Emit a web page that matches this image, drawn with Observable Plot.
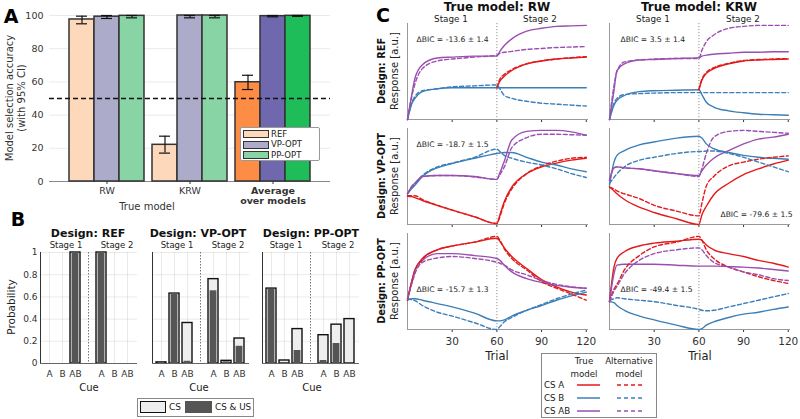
<!DOCTYPE html>
<html><head><meta charset="utf-8">
<script src="https://cdn.jsdelivr.net/npm/d3@7"></script>
<script src="https://cdn.jsdelivr.net/npm/@observablehq/plot@0.6"></script>
<style>
body{margin:0;background:#fff;font-family:"DejaVu Sans",sans-serif;}
#fig{position:relative;width:800px;height:419px;overflow:hidden;background:#fff;}
#fig svg{position:absolute;background:transparent;overflow:visible;}
</style></head><body><div id="fig"></div>
<script>
// ---------- Panel A data ----------
const aGroups = ["RW", "KRW", "Average"];
const aDesigns = ["REF", "VP-OPT", "PP-OPT"];
const accREF = [97.6, 22.1, 59.8];
const accVP  = [99.3, 100, 99.6];
const accPP  = [99.8, 100, 99.8];
const loREF = [95.0, 17.1, 55.4], hiREF = [99.6, 27.3, 64.0];
const loVP  = [98.2, 98.6, 99.2], hiVP  = [100, 100, 100];
const loPP  = [98.6, 98.6, 99.5], hiPP  = [100, 100, 100];
const aColorKeys = ["light-REF","light-VP-OPT","light-PP-OPT","dark-REF","dark-VP-OPT","dark-PP-OPT"];
const aColors = ["#fdd8bb","#adabca","#88d4a4","#fd8d45","#6f68ae","#1fbd5a"];

// ---------- Panel B data ----------
const bCues = ["A","B","AB"];
const bKeys = ["A|1","B|1","AB|1","A|2","B|2","AB|2"];
const bDomain = ["A|1","B|1","AB|1","gap","A|2","B|2","AB|2"];
const bREF_cs   = [0, 0, 1, 1, 0, 0];
const bREF_csus = [0, 0, 1, 1, 0, 0];
const bVP_cs    = [0.01, 0.63, 0.365, 0.76, 0.024, 0.225];
const bVP_csus  = [0.01, 0.63, 0.02, 0.655, 0.015, 0.155];
const bPP_cs    = [0.675, 0.027, 0.31, 0.255, 0.35, 0.40];
const bPP_csus  = [0.667, 0.005, 0.117, 0.027, 0.18, 0.0];

// ---------- Panel C data ----------
const trials = [0,3,5,10,20,30,45,60,62,65,70,80,90,100,110,120];
const N = null;
const cueNames = ["CS A","CS B","CS AB"];
const cueColors = ["#e31a1c","#3c7fb8","#9a4fb0"];
// RW / REF
const rwRef_A_true  = [N,N,N,N,N,N,N,0.33,0.40,0.45,0.51,0.58,0.61,0.63,0.64,0.65];
const rwRef_A_alt   = [N,N,N,N,N,N,N,0.33,0.42,0.47,0.52,0.58,0.61,0.63,0.645,0.655];
const rwRef_B_true  = [0,0.17,0.22,0.29,0.32,0.33,0.33,0.33,0.33,0.33,0.33,0.33,0.33,0.33,0.33,0.33];
const rwRef_B_alt   = [0,0.18,0.24,0.30,0.32,0.34,0.35,0.36,0.32,0.25,0.22,0.19,0.17,0.16,0.15,0.14];
const rwRef_AB_true = [0,0.27,0.43,0.57,0.64,0.65,0.66,0.66,0.71,0.77,0.84,0.92,0.95,0.97,0.975,0.98];
const rwRef_AB_alt  = [0,0.25,0.37,0.53,0.61,0.63,0.65,0.67,0.69,0.70,0.71,0.73,0.74,0.75,0.755,0.76];
// KRW / REF
const krwRef_A_true  = [N,N,N,N,N,N,N,0.31,0.41,0.48,0.53,0.58,0.61,0.62,0.625,0.63];
const krwRef_A_alt   = [N,N,N,N,N,N,N,0.31,0.42,0.49,0.54,0.585,0.615,0.625,0.63,0.635];
const krwRef_B_true  = [0,0.15,0.20,0.25,0.29,0.30,0.305,0.31,0.26,0.18,0.13,0.09,0.07,0.055,0.05,0.045];
const krwRef_B_alt   = [0,0.17,0.22,0.26,0.27,0.275,0.28,0.28,0.28,0.28,0.28,0.28,0.28,0.28,0.28,0.28];
const krwRef_AB_true = [0,0.30,0.51,0.58,0.62,0.625,0.635,0.645,0.66,0.67,0.68,0.69,0.70,0.70,0.705,0.705];
const krwRef_AB_alt  = [0,0.35,0.50,0.60,0.62,0.63,0.635,0.635,0.72,0.81,0.88,0.95,0.97,0.98,0.98,0.98];
// RW / VP-OPT
const rwVp_A_true  = [0.295,0.29,0.28,0.25,0.20,0.15,0.08,0.01,0.10,0.24,0.39,0.53,0.60,0.64,0.67,0.69];
const rwVp_A_alt   = [0.30,0.30,0.30,0.26,0.20,0.15,0.08,0.01,0.08,0.22,0.37,0.53,0.61,0.66,0.69,0.70];
const rwVp_B_true  = [0.32,0.38,0.41,0.50,0.59,0.635,0.69,0.74,0.745,0.75,0.75,0.70,0.65,0.62,0.58,0.55];
const rwVp_B_alt   = [0.32,0.38,0.42,0.51,0.60,0.64,0.70,0.785,0.76,0.72,0.69,0.65,0.62,0.58,0.53,0.49];
const rwVp_AB_true = [0.32,0.40,0.43,0.50,0.51,0.51,0.50,0.47,0.54,0.66,0.88,0.97,0.98,0.98,0.965,0.93];
const rwVp_AB_alt  = [0.32,0.40,0.43,0.50,0.51,0.51,0.495,0.47,0.52,0.60,0.80,0.905,0.94,0.94,0.935,0.93];
// KRW / VP-OPT
const krwVp_A_true  = [0.39,0.35,0.32,0.26,0.18,0.125,0.06,0.0,0.10,0.19,0.31,0.43,0.52,0.58,0.63,0.67];
const krwVp_A_alt   = [0.39,0.37,0.35,0.32,0.27,0.20,0.14,0.09,0.22,0.40,0.50,0.61,0.65,0.68,0.70,0.715];
const krwVp_B_true  = [0.41,0.65,0.72,0.77,0.83,0.86,0.90,0.92,0.90,0.84,0.79,0.75,0.72,0.70,0.69,0.68];
const krwVp_B_alt   = [0.43,0.49,0.53,0.60,0.67,0.70,0.74,0.76,0.76,0.765,0.765,0.74,0.70,0.65,0.60,0.55];
const krwVp_AB_true = [0.46,0.59,0.60,0.59,0.58,0.56,0.53,0.51,0.56,0.62,0.69,0.77,0.84,0.89,0.91,0.94];
const krwVp_AB_alt  = [0.46,0.59,0.60,0.59,0.58,0.56,0.53,0.50,0.58,0.74,0.91,0.97,0.98,0.97,0.96,0.95];
// RW / PP-OPT
const rwPp_A_true  = [0.305,0.51,0.62,0.74,0.83,0.87,0.91,0.95,0.92,0.85,0.76,0.635,0.52,0.445,0.39,0.36];
const rwPp_A_alt   = [0.305,0.50,0.61,0.73,0.83,0.87,0.91,0.97,0.93,0.84,0.74,0.62,0.50,0.43,0.37,0.305];
const rwPp_B_true  = [0.305,0.32,0.32,0.305,0.27,0.235,0.17,0.09,0.09,0.10,0.14,0.20,0.25,0.305,0.35,0.39];
const rwPp_B_alt   = [0.32,0.31,0.30,0.25,0.18,0.14,0.07,0.0,0.03,0.08,0.125,0.20,0.26,0.32,0.37,0.41];
const rwPp_AB_true = [0.32,0.51,0.625,0.72,0.79,0.79,0.77,0.74,0.72,0.67,0.60,0.53,0.49,0.46,0.44,0.43];
const rwPp_AB_alt  = [0.32,0.48,0.58,0.70,0.745,0.76,0.74,0.70,0.69,0.67,0.62,0.57,0.51,0.47,0.445,0.43];
// KRW / PP-OPT
const krwPp_A_true  = [0.29,0.65,0.74,0.81,0.87,0.90,0.92,0.94,0.93,0.88,0.83,0.79,0.76,0.72,0.69,0.65];
const krwPp_A_alt   = [0.29,0.42,0.47,0.62,0.77,0.86,0.91,0.97,0.93,0.83,0.74,0.65,0.60,0.55,0.51,0.48];
const krwPp_B_true  = [0.29,0.28,0.25,0.20,0.14,0.10,0.045,0.0,0.01,0.045,0.08,0.125,0.16,0.18,0.21,0.235];
const krwPp_B_alt   = [0.305,0.32,0.33,0.32,0.305,0.29,0.25,0.21,0.20,0.195,0.20,0.235,0.27,0.305,0.34,0.375];
const krwPp_AB_true = [0.29,0.58,0.67,0.68,0.68,0.68,0.67,0.66,0.66,0.66,0.66,0.655,0.65,0.64,0.625,0.61];
const krwPp_AB_alt  = [0.29,0.40,0.45,0.58,0.72,0.79,0.83,0.85,0.83,0.77,0.70,0.65,0.60,0.57,0.53,0.51];
const bicTexts = ["ΔBIC = -13.6 ± 1.4","ΔBIC = 3.5 ± 1.4","ΔBIC = -18.7 ± 1.5","ΔBIC = -79.6 ± 1.5","ΔBIC = -15.7 ± 1.3","ΔBIC = -49.4 ± 1.5"];

// ---------- helpers ----------
const fig = document.getElementById("fig");
const FONT = "DejaVu Sans";
function place(node, left, top){ node.style.left = left + "px"; node.style.top = top + "px"; fig.appendChild(node); return node; }
function label(s, x, y, o = {}){
  const d = document.createElement("div");
  d.textContent = s;
  const tx = o.anchor === "start" ? "0" : "-50%";
  d.style.cssText = `position:absolute;left:${x}px;top:${y}px;white-space:nowrap;font-family:'${FONT}';font-size:${o.size||10}px;font-weight:${o.bold?"bold":"normal"};color:${o.color||"#222"};line-height:1;transform:translate(${tx},-50%) rotate(${o.rot||0}deg);`;
  fig.appendChild(d);
  return d;
}
const baseStyle = (fs) => ({fontFamily: FONT, fontSize: fs + "px", color: "#333", background: "transparent", overflow: "visible"});

// ---------- Panel A ----------
const accs = [accREF, accVP, accPP], los = [loREF, loVP, loPP], his = [hiREF, hiVP, hiPP];
const aRows = aGroups.flatMap((g, i) => aDesigns.map((d, j) => ({
  group: g, design: d, acc: accs[j][i], lo: los[j][i], hi: his[j][i],
  key: (g === "Average" ? "dark-" : "light-") + d
})));
const aDims = {width: 340, height: 215, marginLeft: 49, marginRight: 10, marginTop: 15, marginBottom: 34};

const aBack = Plot.plot({
  ...aDims, style: baseStyle(9.5),
  x: {domain: [0, 1], axis: null},
  y: {domain: [0, 100], ticks: [0, 20, 40, 60, 80, 100], grid: true, tickSize: 0, tickPadding: 6, label: null},
  marks: [Plot.ruleY([0], {stroke: "#888"})]
});
place(aBack, 0, 0);

const aFront = Plot.plot({
  ...aDims, style: baseStyle(9.5),
  facet: {data: aRows, x: "group"},
  fx: {domain: aGroups, paddingInner: 0.096, paddingOuter: 0.24, axis: "bottom", label: null, tickSize: 3, tickPadding: 3,
       tickFormat: g => g === "Average" ? "Average\nover models" : g},
  x: {domain: aDesigns, padding: 0, axis: null},
  y: {domain: [0, 100], axis: null},
  color: {domain: aColorKeys, range: aColors},
  marks: [
    Plot.barY(aRows, {x: "design", y: "acc", fill: "key", stroke: "#333", strokeWidth: 1.5}),
    Plot.ruleX(aRows, {x: "design", y1: "lo", y2: "hi", stroke: "#111", strokeWidth: 1.2}),
    Plot.tickY(aRows, {x: "design", y: "lo", stroke: "#111", strokeWidth: 1.2, insetLeft: 7, insetRight: 7}),
    Plot.tickY(aRows, {x: "design", y: "hi", stroke: "#111", strokeWidth: 1.2, insetLeft: 7, insetRight: 7})
  ]
});
aFront.querySelectorAll("text").forEach(t => { if (t.textContent.includes("Average") || t.textContent.includes("over models")) t.setAttribute("font-weight", "bold"); });
place(aFront, 0, 0);

const aTop = Plot.plot({
  ...aDims, style: baseStyle(9.5),
  x: {domain: [0, 1], axis: null},
  y: {domain: [0, 100], axis: null},
  marks: [Plot.ruleY([50], {stroke: "#111", strokeWidth: 1.3, strokeDasharray: "5,3"})]
});
place(aTop, 0, 0);

label("A", 11, 16, {size: 19, bold: true, color: "#000"});
label("Model selection accuracy", 10, 98, {size: 10, rot: -90, color: "#333"});
label("(with 95% CI)", 22, 98, {size: 10, rot: -90, color: "#333"});
label("True model", 147, 207, {size: 10, color: "#333"});

// Legend A
{
  const box = document.createElement("div");
  box.style.cssText = "position:absolute;width:78px;height:32px;border:1px solid #999;border-radius:2px;background:#fff;";
  place(box, 240, 127);
  aDesigns.forEach((d, i) => {
    const sw = document.createElement("div");
    sw.style.cssText = `position:absolute;left:2px;top:${2 + i * 10.5}px;width:24px;height:6px;background:${aColors[i]};border:1.3px solid #333;`;
    box.appendChild(sw);
    const tx = document.createElement("div");
    tx.textContent = d;
    tx.style.cssText = `position:absolute;left:30px;top:${0.5 + i * 10.5}px;font-family:'${FONT}';font-size:8.5px;color:#222;line-height:10px;white-space:nowrap;`;
    box.appendChild(tx);
  });
}

// ---------- Panel B ----------
function bPlot(cs, csus, showY){
  const rows = bKeys.map((k, i) => ({key: k, cs: cs[i], csus: csus[i]}));
  return Plot.plot({
    width: 142, height: 136, marginLeft: 40, marginRight: 5, marginTop: 5, marginBottom: 20,
    style: baseStyle(9),
    x: {domain: bDomain, padding: 0.23, ticks: bKeys, tickFormat: d => d.split("|")[0], tickSize: 0, tickPadding: 7, grid: true, label: null},
    y: {domain: [0, 1], ticks: [0, 0.2, 0.4, 0.6, 0.8, 1], grid: true, tickSize: 0, tickPadding: 3, label: null, line: true,
        tickFormat: showY ? (d => (d === 0 || d === 1) ? String(d) : d.toFixed(1)) : (() => "")},
    marks: [
      Plot.ruleX(["gap"], {stroke: "#555", strokeWidth: 0.8, strokeDasharray: "1.5,1.5"}),
      Plot.barY(rows, {x: "key", y: "cs", fill: "#eeeeee", stroke: "#111", strokeWidth: 1.4}),
      Plot.barY(rows, {x: "key", y: "csus", fill: "#555555", insetLeft: 1.6, insetRight: 1.6}),
      Plot.ruleY([0], {stroke: "#666"})
    ]
  });
}
place(bPlot(bREF_cs, bREF_csus, true), 0, 247);
place(bPlot(bVP_cs, bVP_csus, false), 112, 247);
place(bPlot(bPP_cs, bPP_csus, false), 222, 247);

label("B", 18, 219, {size: 19, bold: true, color: "#000"});
[["Design: REF", 88, 66, 117], ["Design: VP-OPT", 198, 177, 228], ["Design: PP-OPT", 311, 286, 338]].forEach(([t, cx, s1, s2]) => {
  label(t, cx, 233, {size: 11, bold: true, color: "#111"});
  label("Stage 1", s1, 244.5, {size: 8.5, color: "#222"});
  label("Stage 2", s2, 244.5, {size: 8.5, color: "#222"});
  label("Cue", cx + 1, 388, {size: 10, color: "#222"});
});
label("Probability", 11, 307, {size: 10.5, rot: -90, color: "#222"});

// Legend B
{
  const box = document.createElement("div");
  box.style.cssText = "position:absolute;width:115px;height:17px;border:1px solid #888;background:#fff;";
  place(box, 137, 398);
  const s1 = document.createElement("div");
  s1.style.cssText = "position:absolute;left:2px;top:2px;width:24px;height:10px;background:#eee;border:1.3px solid #111;";
  box.appendChild(s1);
  const t1 = document.createElement("div"); t1.textContent = "CS";
  t1.style.cssText = `position:absolute;left:31px;top:2px;font-family:'${FONT}';font-size:9px;line-height:13px;color:#222;white-space:nowrap;`;
  box.appendChild(t1);
  const s2 = document.createElement("div");
  s2.style.cssText = "position:absolute;left:47px;top:2px;width:27px;height:12px;background:#555;";
  box.appendChild(s2);
  const t2 = document.createElement("div"); t2.textContent = "CS & US";
  t2.style.cssText = `position:absolute;left:77px;top:2px;font-family:'${FONT}';font-size:8.8px;line-height:13px;color:#222;white-space:nowrap;`;
  box.appendChild(t2);
}

// ---------- Panel C ----------
function cPlot(sets, row, bic, anchor, dx, dy){
  const rowsFor = (idx) => sets.flatMap((pair, c) => trials.map((t, i) => ({t, v: pair[idx][i], cue: cueNames[c]})));
  const last = row === 2;
  const mb = last ? 30 : 8;
  return Plot.plot({
    width: 181 + 5 + 14, height: 96 + 5 + mb, marginLeft: 5, marginRight: 14, marginTop: 5, marginBottom: mb,
    style: baseStyle(10.5),
    x: {domain: [0, 121.5], ticks: [30, 60, 90, 120], tickSize: 3, tickPadding: 5, label: null, tickFormat: last ? (d => String(d)) : (() => "")},
    y: {domain: [0, 1], axis: null},
    color: {domain: cueNames, range: cueColors},
    marks: [
      Plot.ruleX([60], {stroke: "#888", strokeWidth: 0.9, strokeDasharray: "1.2,1.8"}),
      Plot.ruleY([0], {stroke: "#999"}),
      Plot.ruleX([0], {stroke: "#999"}),
      Plot.line(rowsFor(0), {x: "t", y: "v", z: "cue", stroke: "cue", strokeWidth: 1.4, curve: "monotone-x"}),
      Plot.line(rowsFor(1), {x: "t", y: "v", z: "cue", stroke: "cue", strokeWidth: 1.4, strokeDasharray: "4,2.5", curve: "monotone-x"}),
      Plot.text([bic], {text: d => d, frameAnchor: anchor, dx, dy, fontSize: 7.6, fill: "#222"})
    ]
  });
}
const cCols = [407, 609];
const cRows = [23.3, 128.3, 233.3];
const cPanels = [
  [[[rwRef_A_true, rwRef_A_alt], [rwRef_B_true, rwRef_B_alt], [rwRef_AB_true, rwRef_AB_alt]], 0, 0, "top-left", 9, 13],
  [[[krwRef_A_true, krwRef_A_alt], [krwRef_B_true, krwRef_B_alt], [krwRef_AB_true, krwRef_AB_alt]], 0, 1, "top-left", 11, 13],
  [[[rwVp_A_true, rwVp_A_alt], [rwVp_B_true, rwVp_B_alt], [rwVp_AB_true, rwVp_AB_alt]], 1, 0, "top-left", 9, 13],
  [[[krwVp_A_true, krwVp_A_alt], [krwVp_B_true, krwVp_B_alt], [krwVp_AB_true, krwVp_AB_alt]], 1, 1, "bottom-right", 2, -8],
  [[[rwPp_A_true, rwPp_A_alt], [rwPp_B_true, rwPp_B_alt], [rwPp_AB_true, rwPp_AB_alt]], 2, 0, "left", 9, 8],
  [[[krwPp_A_true, krwPp_A_alt], [krwPp_B_true, krwPp_B_alt], [krwPp_AB_true, krwPp_AB_alt]], 2, 1, "left", 11, 8]
];
cPanels.forEach(([sets, r, c, anchor, dx, dy], k) => {
  place(cPlot(sets, r, bicTexts[k], anchor, dx, dy), cCols[c] - 5, cRows[r] - 5);
});

label("C", 383, 15, {size: 19, bold: true, color: "#000"});
label("True model: RW", 497, 7, {size: 12, bold: true, color: "#111"});
label("True model: KRW", 699, 7, {size: 12, bold: true, color: "#111"});
[[451, 540], [653, 743]].forEach(([s1, s2]) => {
  label("Stage 1", s1, 18.5, {size: 8.8, color: "#222"});
  label("Stage 2", s2, 18.5, {size: 8.8, color: "#222"});
});
[["Design: REF", 71], ["Design: VP-OPT", 176], ["Design: PP-OPT", 281]].forEach(([t, y]) => {
  label(t, 382, y, {size: 9.8, bold: true, rot: -90, color: "#111"});
  label("Response [a.u.]", 395, y, {size: 10, rot: -90, color: "#222"});
});
label("Trial", 497, 357, {size: 11.5, color: "#222"});
label("Trial", 700, 357, {size: 11.5, color: "#222"});

// Legend C
{
  const box = document.createElement("div");
  box.style.cssText = "position:absolute;width:114px;height:63px;border:1px solid #888;background:#fff;";
  place(box, 541, 353);
  const add = (s, x, y, anchor) => {
    const d = document.createElement("div"); d.textContent = s;
    d.style.cssText = `position:absolute;left:${x}px;top:${y}px;font-family:'${FONT}';font-size:8.7px;color:#222;line-height:1;white-space:nowrap;transform:translate(${anchor === "start" ? "0" : "-50%"},-50%);`;
    box.appendChild(d);
  };
  add("True", 42, 7);
  add("model", 42, 20);
  add("Alternative", 87, 7);
  add("model", 87, 20);
  cueNames.forEach((n, i) => add(n, 2, 31 + i * 13, "start"));
  const svg = d3.create("svg").attr("width", 114).attr("height", 63).style("position", "absolute").style("left", "0px").style("top", "0px");
  cueNames.forEach((n, i) => {
    const y = 31 + i * 13;
    svg.append("line").attr("x1", 35).attr("x2", 58).attr("y1", y).attr("y2", y).attr("stroke", cueColors[i]).attr("stroke-width", 1.5);
    svg.append("line").attr("x1", 75).attr("x2", 100).attr("y1", y).attr("y2", y).attr("stroke", cueColors[i]).attr("stroke-width", 1.5).attr("stroke-dasharray", "4,3");
  });
  box.appendChild(svg.node());
}
</script></body></html>
